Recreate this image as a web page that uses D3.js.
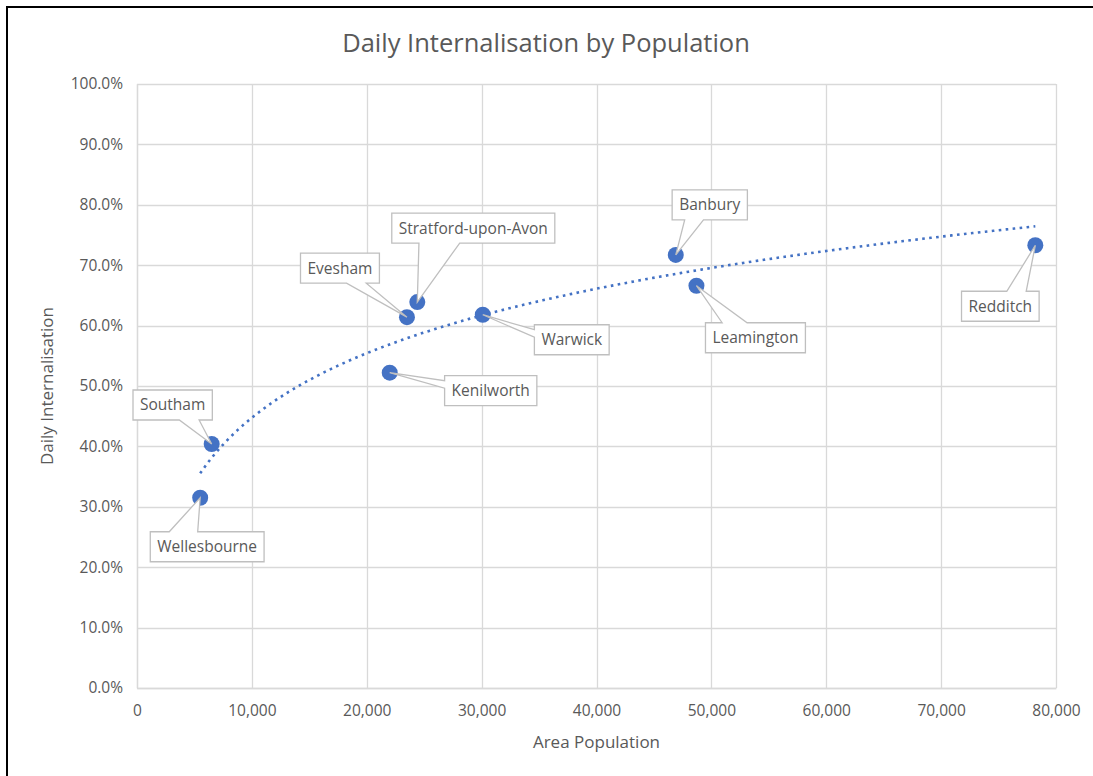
<!DOCTYPE html>
<html>
<head>
<meta charset="utf-8">
<script src="https://cdn.jsdelivr.net/npm/d3@7"></script>
<style>
  html, body { margin: 0; padding: 0; background: #fff; }
  svg { display: block; }
  text { font-family: "Open Sans", "Noto Sans", sans-serif; fill: #595959; }
</style>
</head>
<body>
<svg id="chart" width="1093" height="776"></svg>
<script>
// Towns, their population and daily internalisation share
const towns = ["Wellesbourne", "Southam", "Kenilworth", "Evesham", "Stratford-upon-Avon",
               "Warwick", "Banbury", "Leamington", "Redditch"];
const population = [5500, 6500, 22000, 23500, 24400, 30100, 46900, 48700, 78200];
const internalisation = [0.315, 0.404, 0.522, 0.614, 0.639, 0.618, 0.717, 0.666, 0.733];

// Label box offsets (box centre relative to its point, in pixels)
const labelDx = [7, -39, 101, -67, 56, 89, 34, 59, -35];
const labelDy = [49, -39, 18, -49, -74, 25, -50, 52, 61];

const xTicks = [0, 10000, 20000, 30000, 40000, 50000, 60000, 70000, 80000];
const yTicks = [0, 0.1, 0.2, 0.3, 0.4, 0.5, 0.6, 0.7, 0.8, 0.9, 1.0];

const svg = d3.select("#chart");
const W = 1093, H = 776;
const plot = { left: 137, right: 1056, top: 84, bottom: 688 };

const x = d3.scaleLinear().domain([0, 80000]).range([plot.left, plot.right]);
const y = d3.scaleLinear().domain([0, 1]).range([plot.bottom, plot.top]);

const blue = "#4472C4";
const grid = "#d9d9d9";

// chart frame
svg.append("rect").attr("x", 7).attr("y", 7).attr("width", W + 10).attr("height", H + 10)
  .attr("fill", "none").attr("stroke", "#000").attr("stroke-width", 2);

// title
svg.append("text").attr("x", 546).attr("y", 52).attr("text-anchor", "middle")
  .style("font-size", "25.5px").text("Daily Internalisation by Population");

// gridlines
svg.append("g").selectAll("line").data(yTicks).join("line")
  .attr("x1", plot.left).attr("x2", plot.right)
  .attr("y1", d => Math.round(y(d)) + 0.5).attr("y2", d => Math.round(y(d)) + 0.5)
  .attr("stroke", grid).attr("stroke-width", 1.3);
svg.append("g").selectAll("line").data(xTicks).join("line")
  .attr("y1", plot.top).attr("y2", plot.bottom)
  .attr("x1", d => Math.round(x(d)) + 0.5).attr("x2", d => Math.round(x(d)) + 0.5)
  .attr("stroke", grid).attr("stroke-width", 1.3);

// axes
const fmtPct = d3.format(".1%");
const fmtNum = d3.format(",");
const yAxis = svg.append("g").attr("transform", `translate(${plot.left},0)`)
  .call(d3.axisLeft(y).tickValues(yTicks).tickFormat(fmtPct).tickSize(0).tickPadding(14));
const xAxis = svg.append("g").attr("transform", `translate(0,${plot.bottom})`)
  .call(d3.axisBottom(x).tickValues(xTicks).tickFormat(d => fmtNum(d)).tickSize(0).tickPadding(17));
[yAxis, xAxis].forEach(a => {
  a.select(".domain").attr("stroke", grid).attr("stroke-width", 1.3);
  a.selectAll("text").style("font-size", "15.5px").attr("fill", "#595959")
    .style("font-family", "'Open Sans', sans-serif");
});

// axis titles
svg.append("text").attr("x", (plot.left + plot.right) / 2).attr("y", 748)
  .attr("text-anchor", "middle").style("font-size", "17px").text("Area Population");
svg.append("text").attr("transform", `translate(53,${(plot.top + plot.bottom) / 2}) rotate(-90)`)
  .attr("text-anchor", "middle").style("font-size", "17px").text("Daily Internalisation");

// logarithmic trendline fitted by least squares on ln(population)
const lx = population.map(Math.log);
const mx = d3.mean(lx), my = d3.mean(internalisation);
const slope = d3.sum(lx, (v, i) => (v - mx) * (internalisation[i] - my)) /
              d3.sum(lx, v => (v - mx) * (v - mx));
const intercept = my - slope * mx;
const [xMin, xMax] = d3.extent(population);
const trend = d3.range(0, 201).map(i => {
  const p = xMin + (xMax - xMin) * i / 200;
  return [p, slope * Math.log(p) + intercept];
});
svg.append("path").datum(trend)
  .attr("d", d3.line().x(d => x(d[0])).y(d => y(d[1])))
  .attr("fill", "none").attr("stroke", blue).attr("stroke-width", 2.6)
  .attr("stroke-dasharray", "2.6 4.4");

// points
const pts = towns.map((t, i) => ({ name: t, px: x(population[i]), py: y(internalisation[i]), i }));
svg.append("g").selectAll("circle").data(pts).join("circle")
  .attr("cx", d => d.px).attr("cy", d => d.py).attr("r", 8).attr("fill", blue);

// callout labels (rectangle with a wedge pointing at the point)
function calloutPath(l, t, r, b, tx, ty) {
  const w = r - l, h = b - t, hc = (l + r) / 2, vc = (t + b) / 2;
  const dxPos = tx - hc, dyPos = ty - vc;
  const dq = dxPos * h / w;
  const dz = Math.abs(dyPos) - Math.abs(dq);
  const x1 = l + w * (dxPos > 0 ? 7 : 2) / 12, x2 = l + w * (dxPos > 0 ? 10 : 5) / 12;
  const y1 = t + h * (dyPos > 0 ? 7 : 2) / 12, y2 = t + h * (dyPos > 0 ? 10 : 5) / 12;
  const p = d3.path();
  p.moveTo(l, t);
  if (dz > 0 && dyPos < 0) { p.lineTo(x1, t); p.lineTo(tx, ty); p.lineTo(x2, t); }
  p.lineTo(r, t);
  if (dz <= 0 && dxPos > 0) { p.lineTo(r, y1); p.lineTo(tx, ty); p.lineTo(r, y2); }
  p.lineTo(r, b);
  if (dz > 0 && dyPos > 0) { p.lineTo(x2, b); p.lineTo(tx, ty); p.lineTo(x1, b); }
  p.lineTo(l, b);
  if (dz <= 0 && dxPos < 0) { p.lineTo(l, y2); p.lineTo(tx, ty); p.lineTo(l, y1); }
  p.closePath();
  return p.toString();
}

const labels = svg.append("g");
pts.forEach(d => {
  const cx = d.px + labelDx[d.i], cy = d.py + labelDy[d.i];
  const g = labels.append("g");
  const path = g.append("path");
  const txt = g.append("text").attr("x", cx).attr("y", cy + 5.5)
    .attr("text-anchor", "middle").style("font-size", "15.5px").text(d.name);
  const tw = txt.node().getComputedTextLength();
  const hw = tw / 2 + 7, hh = 15;
  path.attr("d", calloutPath(cx - hw, cy - hh, cx + hw, cy + hh, d.px, d.py))
    .attr("fill", "#fff").attr("stroke", "#bfbfbf").attr("stroke-width", 1.3);
});
</script>
</body>
</html>
